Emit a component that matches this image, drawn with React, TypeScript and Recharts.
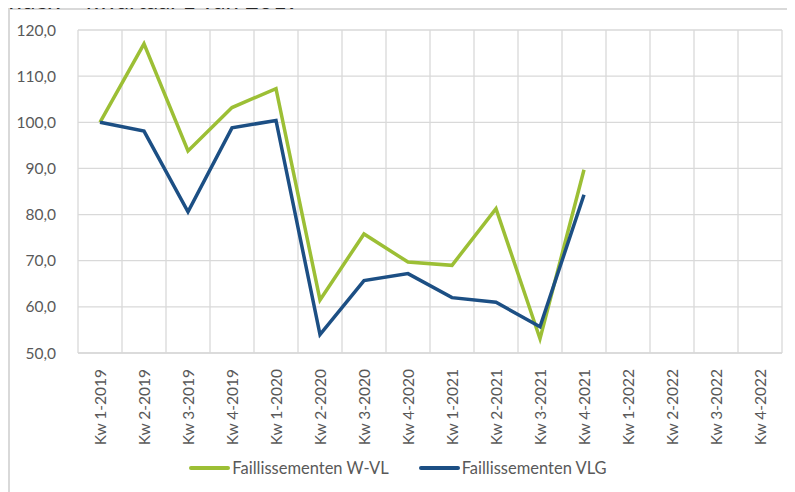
import React from "react";
import { LineChart, Line, XAxis, YAxis, CartesianGrid, Legend } from "recharts";

const quarters = [
  "Kw 1-2019", "Kw 2-2019", "Kw 3-2019", "Kw 4-2019",
  "Kw 1-2020", "Kw 2-2020", "Kw 3-2020", "Kw 4-2020",
  "Kw 1-2021", "Kw 2-2021", "Kw 3-2021", "Kw 4-2021",
  "Kw 1-2022", "Kw 2-2022", "Kw 3-2022", "Kw 4-2022",
];
const wvl: (number | null)[] = [100, 117.0, 93.8, 103.2, 107.3, 61.5, 75.8, 69.7, 69.0, 81.3, 53.1, 89.7, null, null, null, null];
const vlg: (number | null)[] = [100, 98.1, 80.6, 98.8, 100.4, 54.0, 65.7, 67.2, 62.0, 61.0, 55.7, 84.3, null, null, null, null];
const yTicks = [50, 60, 70, 80, 90, 100, 110, 120];
const seriesNames = ["Faillissementen W-VL", "Faillissementen VLG"];
const title = "Index – kwartaal 1 van 2019";

const data = quarters.map((q, i) => ({ idx: i, q, wvl: wvl[i], vlg: vlg[i] }));
const labelTicks = quarters.map((_, i) => i);
const boundaryTicks = [...quarters.map((_, i) => i - 0.5), quarters.length - 0.5];

const FONT = "Lato, 'Open Sans', sans-serif";
const GREEN = "#9cbf35";
const BLUE = "#1c4f84";
const TEXT = "#595959";
const GRID = "#d9d9d9";

const XTick = (props: any) => {
  const { x, y, payload } = props;
  return (
    <text
      x={x}
      y={y}
      transform={`rotate(-90, ${x}, ${y})`}
      textAnchor="end"
      dominantBaseline="central"
      fill={TEXT}
      fontSize={15.5}
      fontFamily={FONT}
    >
      {quarters[payload.value]}
    </text>
  );
};

const LegendContent = () => (
  <div style={{ display: "flex", justifyContent: "center", alignItems: "center", fontFamily: FONT, fontSize: 16.5, color: TEXT, marginLeft: 4 }}>
    {[GREEN, BLUE].map((c, i) => (
      <div key={i} style={{ display: "flex", alignItems: "center", marginRight: i === 0 ? 30 : 0 }}>
        <div style={{ width: 41, height: 4, background: c, borderRadius: 2, marginRight: 2 }} />
        <span>{seriesNames[i]}</span>
      </div>
    ))}
  </div>
);

export default function App() {
  return (
    <div style={{ position: "relative", width: 787, height: 484 }}>
      <div
        style={{
          position: "absolute",
          left: 0,
          top: 0,
          width: 787,
          height: 484,
          boxSizing: "border-box",
          borderTop: `2px solid ${GRID}`,
          borderLeft: `2px solid ${GRID}`,
          background: "#fff",
        }}
      >
        <LineChart
          width={785}
          height={482}
          data={data}
          margin={{ top: 20, right: 13, left: 0, bottom: 14 }}
        >
          <XAxis xAxisId="grid" type="number" dataKey="idx" domain={[-0.5, quarters.length - 0.5]} ticks={boundaryTicks} hide />
          <CartesianGrid xAxisId="grid" stroke={GRID} strokeWidth={1.3} verticalFill={[]} />
          <XAxis
            type="number"
            dataKey="idx"
            domain={[-0.5, quarters.length - 0.5]}
            ticks={labelTicks}
            interval={0}
            height={105}
            tick={<XTick />}
            tickLine={false}
            tickMargin={10}
            axisLine={{ stroke: GRID, strokeWidth: 1.3 }}
            allowDecimals
          />
          <YAxis
            domain={[50, 120]}
            ticks={yTicks}
            width={68}
            tickLine={false}
            axisLine={false}
            tickMargin={16}
            tickFormatter={(v: number) => v.toFixed(1).replace(".", ",")}
            tick={{ fill: TEXT, fontSize: 15.5, fontFamily: FONT }}
          />
          <Legend verticalAlign="bottom" height={20} content={<LegendContent />} />
          <Line type="linear" dataKey="wvl" name={seriesNames[0]} stroke={GREEN} strokeWidth={3.5} dot={false} isAnimationActive={false} />
          <Line type="linear" dataKey="vlg" name={seriesNames[1]} stroke={BLUE} strokeWidth={3.5} dot={false} isAnimationActive={false} />
        </LineChart>
      </div>
      <div
        style={{
          position: "absolute",
          left: -6,
          top: -20,
          height: 26,
          fontFamily: FONT,
          fontSize: 24,
          lineHeight: "24px",
          color: "#262626",
          whiteSpace: "nowrap",
          zIndex: 5,
        }}
      >
        {title}
      </div>
    </div>
  );
}
